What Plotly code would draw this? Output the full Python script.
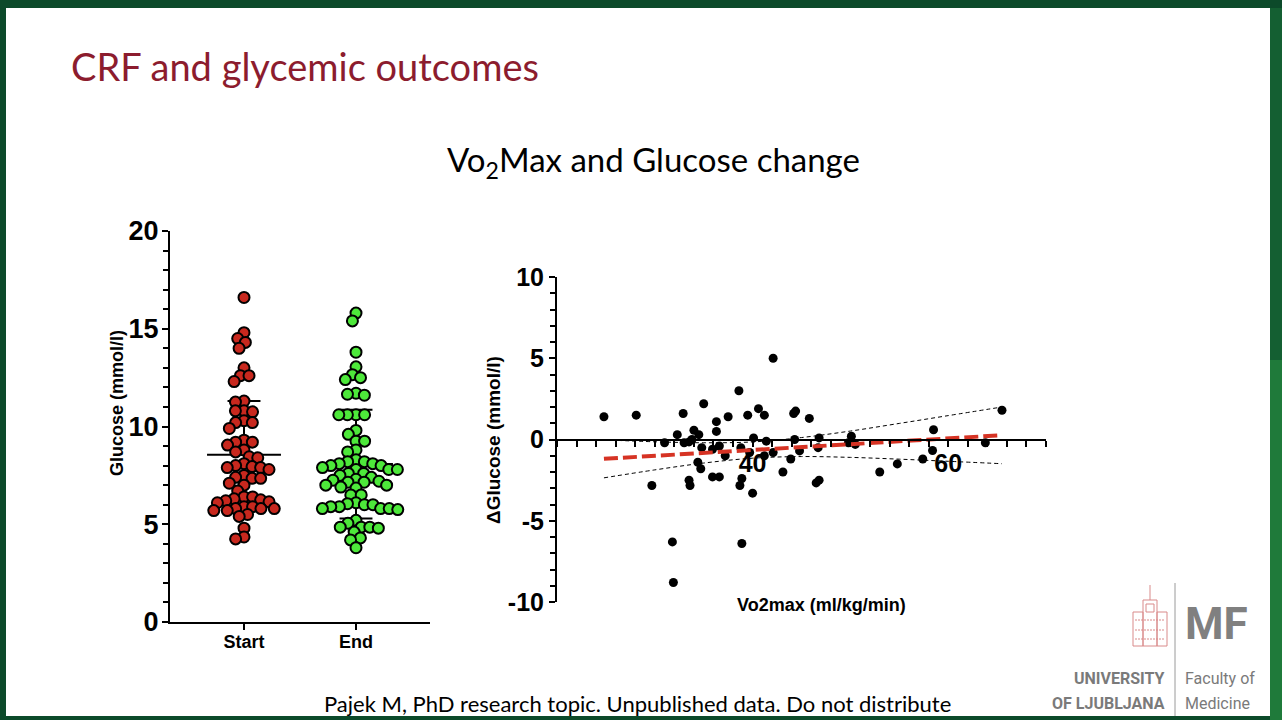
import math
import plotly.graph_objects as go

# ---- data ----
groups = ["Start", "End"]

start_glucose = [16.6, 14.8, 14.5, 14.3, 14.0, 13.0, 12.6, 12.6, 12.3, 11.3, 11.25, 10.8,
                 10.75, 10.8, 10.3, 10.2, 10.2, 9.9, 9.3, 9.2, 9.2, 9.05, 8.8, 8.7, 8.45,
                 8.4, 8.1, 8.0, 7.95, 7.9, 7.9, 7.8, 7.5, 7.4, 7.35, 7.35, 7.1, 7.0, 6.7,
                 6.4, 6.4, 6.3, 6.25, 6.2, 6.15, 6.1, 5.9, 5.9, 5.8, 5.8, 5.8,
                 5.7, 5.7, 5.5, 5.4, 4.8, 4.35, 4.25]

end_glucose = [15.8, 15.4, 13.8, 13.05, 12.65, 12.5, 12.4, 11.7, 11.65, 11.6, 10.6, 10.6,
               10.6, 10.6, 9.8, 9.6, 9.25, 9.25, 8.8, 8.7, 8.3, 8.2, 8.2, 8.1, 8.1, 8.0,
               8.0, 7.9, 7.8, 7.8, 7.8, 7.6, 7.6, 7.5, 7.4, 7.3, 7.25, 7.2, 7.15, 7.15,
               7.0, 7.0, 6.9, 6.85, 6.5, 6.5, 6.1, 6.05, 6.0, 6.0, 5.9, 5.9, 5.8, 5.8,
               5.8, 5.75, 5.2, 5.05, 4.85, 4.85, 4.85, 4.8, 4.6, 4.3, 4.2, 3.8]

group_mean = [8.55, 8.08]
group_sd = [2.75, 2.78]

vo2max = [24.8, 28.1, 29.7, 31.0, 31.8, 31.9, 32.3, 32.9, 33.0, 33.5, 33.8, 33.5, 33.6,
          34.0, 34.5, 34.4, 34.7, 34.8, 35.0, 35.9, 36.3, 36.3, 35.9, 36.6, 36.6, 37.2,
          37.5, 38.6, 38.8, 38.9, 38.7, 38.9, 39.5, 39.7, 40.0, 40.1, 40.6, 41.2, 41.4,
          41.2, 42.1, 42.1, 43.1, 43.9, 44.2, 44.4, 44.3, 44.8, 45.8, 46.5, 46.8, 46.7,
          46.8, 49.8, 50.1, 50.5, 53.0, 54.8, 57.4, 58.5, 58.4, 63.8, 65.5]
d_glucose = [1.4, 1.5, -2.83, -0.2, -6.3, -8.8, 0.3, 1.6, -0.2, -0.15, 0.0, -2.5, -2.83,
             0.57, 0.3, -1.4, -1.8, -0.5, 2.2, -0.6, 1.1, 0.5, -2.3, -2.3, -0.4, -1.0,
             1.4, 3.0, -0.5, -2.4, -2.83, -6.4, 1.5, -0.8, -3.3, 0.1, 1.9, 1.5, -0.1,
             -1.0, 5.0, -0.8, -2.0, -1.2, 1.6, 1.75, 0.0, -0.7, 1.3, -2.67, -2.5, -0.5,
             0.1, -0.2, 0.2, -0.3, -2.0, -1.5, -1.2, 0.6, -0.68, -0.2, 1.8]

fit_intercept = -2.075
fit_slope = 0.0357

band_x = [24.8, 30, 35, 40, 45, 50, 55, 60, 65.5]
band_upper = [-0.02, -0.14, -0.20, -0.15, 0.12, 0.52, 0.99, 1.47, 2.0]
band_lower = [-2.36, -1.87, -1.45, -1.15, -1.05, -1.10, -1.21, -1.34, -1.49]

y_left_ticks = [0, 5, 10, 15, 20]
y_right_ticks = [-10, -5, 0, 5, 10]
x_right_ticks = [40, 60]

# ---- slide geometry helpers (pixels -> paper) ----
W, H = 1282, 720


def px(x):
    return x / W


def py(y):
    return 1 - y / H


def swarm(values, d, sx, sy):
    # simple beeswarm: place points by value, nearest free spot to the centre
    order = sorted(range(len(values)), key=lambda i: -values[i])
    placed = []
    offs = [0.0] * len(values)
    for i in order:
        y = values[i] * sy
        cands = [0.0]
        for xp, yp in placed:
            dy = abs(y - yp)
            if dy < d:
                dx = math.sqrt(d * d - dy * dy)
                cands += [xp - dx, xp + dx]
        cands.sort(key=abs)
        for c in cands:
            if all((c - xp) ** 2 + (y - yp) ** 2 >= d * d - 1e-6 for xp, yp in placed):
                offs[i] = c
                placed.append((c, y))
                break
    return [o / sx for o in offs]


# left panel scale
lx0, lx1 = 170, 430
ly0, ly1 = 622, 231
cat_px = 112.0
x_lo = -(244 - lx0) / cat_px
x_hi = 1 + (lx1 - 356) / cat_px
sy_left = (ly0 - ly1) / 20.0

# right panel
rx0, rx1 = 557, 1046
ry0, ry1 = 602, 277

fig = go.Figure()

# mean / SD lines
for k, g in enumerate(groups):
    m, s = group_mean[k], group_sd[k]
    xs = [k - 0.33, k + 0.33, None, k, k, None, k - 0.147, k + 0.147, None, k - 0.147, k + 0.147]
    ys = [m, m, None, m - s, m + s, None, m + s, m + s, None, m - s, m - s]
    fig.add_trace(go.Scatter(x=xs, y=ys, mode="lines", line=dict(color="black", width=2),
                             hoverinfo="skip", showlegend=False))

colors = ["#c8281e", "#4de83a"]
for k, vals in enumerate([start_glucose, end_glucose]):
    offs = swarm(vals, 8.6, cat_px, sy_left)
    fig.add_trace(go.Scatter(
        x=[k + o for o in offs], y=vals, mode="markers", name=groups[k],
        marker=dict(size=11, color=colors[k], line=dict(color="black", width=2)),
        showlegend=False))

# right panel: regression + band + points
fx = [min(vo2max), max(vo2max)]
fy = [fit_intercept + fit_slope * v for v in fx]
fig.add_trace(go.Scatter(x=band_x, y=band_upper, mode="lines", xaxis="x2", yaxis="y2",
                         line=dict(color="black", width=1, dash="4px,3px", shape="spline"),
                         showlegend=False))
fig.add_trace(go.Scatter(x=band_x, y=band_lower, mode="lines", xaxis="x2", yaxis="y2",
                         line=dict(color="black", width=1, dash="4px,3px", shape="spline"),
                         showlegend=False))
fig.add_trace(go.Scatter(x=vo2max, y=d_glucose, mode="markers", xaxis="x2", yaxis="y2",
                         marker=dict(size=9, color="black"), showlegend=False))
fig.add_trace(go.Scatter(x=fx, y=fy, mode="lines", xaxis="x2", yaxis="y2",
                         line=dict(color="#d63324", width=4, dash="14px,5px"),
                         showlegend=False))

axis_common = dict(showline=True, linecolor="black", linewidth=2, ticks="outside",
                   ticklen=6, tickwidth=2, tickcolor="black", showgrid=False,
                   zeroline=False, fixedrange=True, automargin=False)

fig.update_layout(
    width=W, height=H,
    margin=dict(l=0, r=0, t=0, b=0, autoexpand=False),
    paper_bgcolor="#0c4a2a",
    plot_bgcolor="rgba(0,0,0,0)",
    xaxis=dict(domain=[px(lx0), px(lx1)], range=[x_lo, x_hi], tickvals=[0, 1],
               ticktext=groups, anchor="y", ticklabelstandoff=-4,
               tickfont=dict(family="Liberation Sans", size=18, color="black", weight="bold"),
               **axis_common),
    yaxis=dict(domain=[py(ly0), py(ly1)], range=[0, 20], tickvals=y_left_ticks,
               ticktext=[str(v) for v in y_left_ticks], anchor="x", ticklabelstandoff=-2,
               tickfont=dict(family="Liberation Sans", size=27, color="black", weight="bold"),
               minor=dict(dtick=1, ticks="outside", ticklen=5, tickcolor="black", tickwidth=2),
               **axis_common),
    xaxis2=dict(domain=[px(rx0), px(rx1)], range=[20, 70], tickvals=x_right_ticks,
                ticktext=[str(v) for v in x_right_ticks], ticklabelstandoff=-5,
                anchor="free", position=(py(ry0) + py(ry1)) / 2,
                tickfont=dict(family="Liberation Sans", size=25, color="black", weight="bold"),
                minor=dict(tick0=20, dtick=2, ticks="outside", ticklen=6, tickcolor="black", tickwidth=2),
                **axis_common),
    yaxis2=dict(domain=[py(ry0) , py(ry1)], range=[-10, 10], tickvals=y_right_ticks,
                ticktext=[str(v) for v in y_right_ticks], anchor="x2",
                tickfont=dict(family="Liberation Sans", size=25, color="black", weight="bold"),
                minor=dict(dtick=1, ticks="outside", ticklen=5, tickcolor="black", tickwidth=2),
                **axis_common),
)

# slide background and frame
shapes = [
    dict(type="rect", xref="paper", yref="paper", x0=px(6), x1=px(1270), y0=py(716), y1=py(8),
         fillcolor="white", line=dict(width=0), layer="below"),
    dict(type="rect", xref="paper", yref="paper", x0=px(1270), x1=1, y0=py(720), y1=py(360),
         fillcolor="#1f7a3a", line=dict(width=0), layer="below"),
    dict(type="rect", xref="paper", yref="paper", x0=px(1270), x1=1, y0=py(360), y1=py(8),
         fillcolor="#145f32", line=dict(width=0), layer="below"),
    # logo separator
    dict(type="line", xref="paper", yref="paper", x0=px(1175), x1=px(1175), y0=py(716), y1=py(583),
         line=dict(color="#9a9a9a", width=1)),
]
# rough outline of the university building
logo_red = "#d98a8a"
for bx0, by0, bx1, by1 in [(1133, 612, 1143, 646), (1143, 600, 1157, 646), (1157, 612, 1167, 646),
                           (1146, 604, 1154, 612)]:
    shapes.append(dict(type="rect", xref="paper", yref="paper", x0=px(bx0), x1=px(bx1),
                       y0=py(by1), y1=py(by0), line=dict(color=logo_red, width=1)))
for wy in [620, 630, 639]:
    shapes.append(dict(type="line", xref="paper", yref="paper", x0=px(1135), x1=px(1165),
                       y0=py(wy), y1=py(wy), line=dict(color=logo_red, width=1, dash="2px,1px")))
shapes.append(dict(type="line", xref="paper", yref="paper", x0=px(1150), x1=px(1150),
                   y0=py(600), y1=py(585), line=dict(color=logo_red, width=1)))
fig.update_layout(shapes=shapes)

ann = [
    dict(text="CRF and glycemic outcomes", x=px(69), y=py(66), xanchor="left", yanchor="middle",
         font=dict(family="Lato", size=38, color="#8c1c2e")),
    dict(text="Vo<sub>2</sub>Max and Glucose change", x=px(653), y=py(162), xanchor="center",
         yanchor="middle", font=dict(family="Lato", size=33, color="black")),
    dict(text="Pajek M, PhD research topic. Unpublished data. Do not distribute", x=px(637), y=py(703),
         xanchor="center", yanchor="middle", font=dict(family="Lato", size=22, color="black")),
    dict(text="Glucose (mmol/l)", x=px(117), y=py(403), textangle=-90, xanchor="center",
         yanchor="middle", font=dict(family="Liberation Sans", size=18, color="black", weight="bold")),
    dict(text="\u0394Glucose (mmol/l)", x=px(493), y=py(440), textangle=-90, xanchor="center",
         yanchor="middle", font=dict(family="Liberation Sans", size=19, color="black", weight="bold")),
    dict(text="Vo2max (ml/kg/min)", x=px(821), y=py(605), xanchor="center", yanchor="middle",
         font=dict(family="Liberation Sans", size=18, color="black", weight="bold")),
    dict(text="MF", x=px(1183), y=py(624), xanchor="left", yanchor="middle",
         font=dict(family="Roboto", size=44, color="#808080", weight="bold")),
    dict(text="UNIVERSITY", x=px(1167), y=py(678), xanchor="right", yanchor="middle",
         font=dict(family="Roboto", size=16, color="#7a7a7a", weight="bold")),
    dict(text="OF LJUBLJANA", x=px(1167), y=py(703), xanchor="right", yanchor="middle",
         font=dict(family="Roboto", size=16, color="#7a7a7a", weight="bold")),
    dict(text="Faculty of", x=px(1183), y=py(678), xanchor="left", yanchor="middle",
         font=dict(family="Roboto", size=16, color="#7a7a7a")),
    dict(text="Medicine", x=px(1183), y=py(703), xanchor="left", yanchor="middle",
         font=dict(family="Roboto", size=16, color="#7a7a7a")),
]
for a in ann:
    a.update(xref="paper", yref="paper", showarrow=False)
fig.update_layout(annotations=ann)

fig.write_html("out.html", config={"displayModeBar": False},
               post_script="document.body.style.margin='0';")
